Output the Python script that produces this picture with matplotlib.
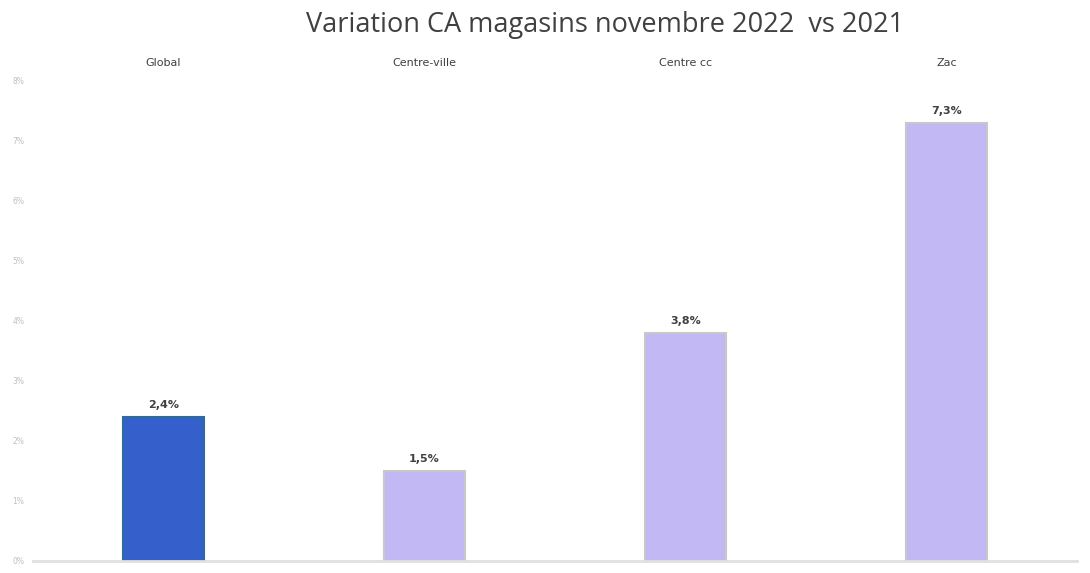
import matplotlib.pyplot as plt

# Données
categories = ["Global", "Centre-ville", "Centre cc", "Zac"]
variations = [2.4, 1.5, 3.8, 7.3]
etiquettes = ["2,4%", "1,5%", "3,8%", "7,3%"]
graduations = [0, 1, 2, 3, 4, 5, 6, 7, 8]
labels_grad = ["0%", "1%", "2%", "3%", "4%", "5%", "6%", "7%", "8%"]

couleurs = ["#3560cc", "#c1b8f4", "#c1b8f4", "#c1b8f4"]

fig = plt.figure(figsize=(10.9, 5.73), dpi=100)
ax = fig.add_axes([0.03, 0.021, 0.958, 0.838])

x = list(range(len(categories)))
barres = ax.bar(x, variations, width=0.31, color=couleurs,
                edgecolor="#c8c8c8", linewidth=1.5)
barres[0].set_edgecolor("#2e6a9a")

for xi, v, txt in zip(x, variations, etiquettes):
    ax.text(xi, v + 0.12, txt, ha="center", va="bottom", fontsize=8,
            fontweight="bold", color="#404040")

ax.set_xlim(-0.5, 3.5)
ax.set_ylim(0, 8)
ax.set_yticks(graduations)
ax.set_yticklabels(labels_grad, fontsize=5.5, color="#c0c0c0")
ax.tick_params(axis="y", length=0, pad=6)

ax.xaxis.tick_top()
ax.set_xticks(x)
ax.set_xticklabels(categories, fontsize=8, color="#404040")
ax.tick_params(axis="x", length=0, pad=9)

for s in ["top", "right", "left"]:
    ax.spines[s].set_visible(False)
ax.spines["bottom"].set_color("#e0e0e0")
ax.spines["bottom"].set_linewidth(2)

fig.suptitle("Variation CA magasins novembre 2022  vs 2021", x=0.555, y=0.98,
             fontsize=19.5, color="#404040", family="Open Sans")

fig.savefig("out.png", dpi=100, facecolor="white")
